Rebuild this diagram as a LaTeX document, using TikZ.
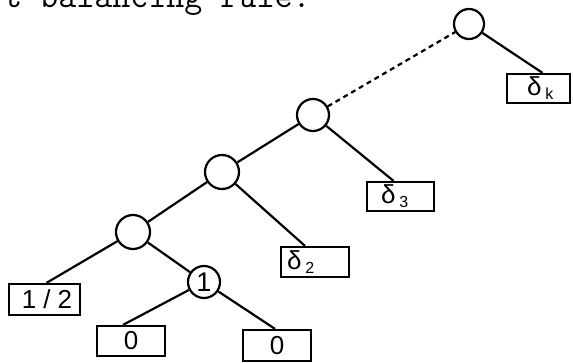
\documentclass[tikz,border=0pt]{standalone}
\usepackage{fontspec}
\newfontfamily\leaffont{Liberation Sans}

% delta with a lowered index
\newcommand{\dsub}[1]{δ\hspace{4pt}\raisebox{-4pt}{\fontsize{16}{16}\selectfont #1}}

\begin{document}
\begin{tikzpicture}[x=1pt,y=-1pt,
  inner/.style={draw, circle, line width=2.2pt, minimum size=32pt, inner sep=0pt,
    font=\leaffont\fontsize{27}{27}\selectfont},
  leaf/.style={draw, rectangle, line width=2.2pt, inner sep=0pt, minimum height=30pt,
    font=\leaffont\fontsize{26}{26}\selectfont},
  edge/.style={line width=2.2pt}]

\clip (0,0) rectangle (573,363);
\useasboundingbox (0,0) rectangle (573,363);

% tail of the sentence above the figure
\node[anchor=base west, inner sep=0pt, font=\ttfamily\fontsize{35}{35}\selectfont]
  (caption) at (4,8) {t-balancing rule.};

% inner nodes
\node[inner, minimum size=30pt] (root) at (469,24) {};
\node[inner] (n3) at (313,115) {};
\node[inner, minimum size=34pt] (n2) at (222,172) {};
\node[inner, minimum size=34pt] (n1) at (133,232) {};
\node[inner] (one) at (204,282) {1};

% leaves
\node[leaf, text width=63pt, minimum height=29pt, align=left] (dk) at (538.5,88.5) {\hspace*{20pt}\dsub{k}};
\node[leaf, text width=67pt, minimum height=29pt, align=left] (d3) at (400.5,196.5) {\hspace*{14pt}\dsub{3}};
\node[leaf, text width=68pt, align=left] (d2) at (315,262) {\hspace*{6pt}\dsub{2}};
\node[leaf, text width=71pt, minimum height=31pt, align=left] (half) at (44.5,299.5) {\hspace*{13pt}1\hspace{7pt}/\hspace{7pt}2};
\node[leaf, text width=68pt, align=center] (z1) at (131,341) {0};
\node[leaf, text width=68pt, minimum height=31pt, align=center] (z2) at (277,345.5) {0};

% edges
\draw[edge, dash pattern=on 5pt off 4pt] (n3) -- (root);
\draw[edge] (root) -- ([xshift=4pt]dk.north);
\draw[edge] (n3) -- ([xshift=-7pt]d3.north);
\draw[edge] (n3) -- (n2);
\draw[edge] (n2) -- ([xshift=-10pt]d2.north);
\draw[edge] (n2) -- (n1);
\draw[edge] (n1) -- ([xshift=2pt]half.north);
\draw[edge] (n1) -- (one);
\draw[edge] (one) -- ([xshift=-8pt]z1.north);
\draw[edge] (one) -- ([xshift=-2pt]z2.north);

\end{tikzpicture}
\end{document}
